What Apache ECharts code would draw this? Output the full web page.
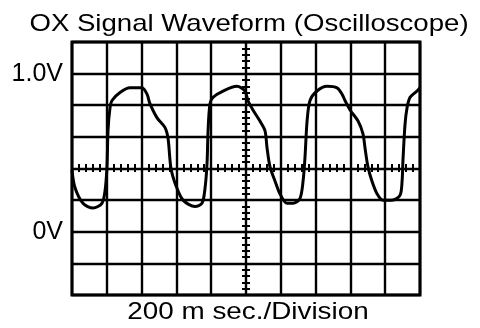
<!DOCTYPE html>
<html><head><meta charset="utf-8">
<script src="https://cdn.jsdelivr.net/npm/echarts@6/dist/echarts.min.js"></script>
<style>html,body{margin:0;padding:0;background:#fff}#c{width:480px;height:328px}</style>
</head><body><div id="c"></div>
<script>
// time in ms (200 ms per division), voltage in V
var timeMs = [0,17,63,121,172,190,201,207,218,230,276,333,402,431,448,489,534,552,569,598,638,707,747,764,776,782,793,810,868,948,994,1011,1040,1080,1109,1121,1138,1167,1195,1236,1270,1310,1328,1339,1351,1368,1408,1466,1523,1552,1569,1598,1644,1672,1684,1701,1724,1753,1787,1839,1885,1897,1902,1914,1925,1943,1983,2000];
var volts = [0.39,0.28,0.18,0.15,0.18,0.26,0.41,0.64,0.78,0.83,0.88,0.91,0.91,0.87,0.81,0.72,0.66,0.59,0.40,0.29,0.20,0.16,0.18,0.27,0.43,0.64,0.81,0.85,0.89,0.92,0.89,0.83,0.77,0.70,0.64,0.53,0.41,0.32,0.24,0.18,0.18,0.21,0.32,0.47,0.70,0.83,0.89,0.92,0.91,0.87,0.83,0.77,0.70,0.62,0.53,0.41,0.32,0.24,0.20,0.20,0.23,0.32,0.45,0.68,0.78,0.85,0.89,0.91];
var yTickLabels = {"1": "1.0V", "0": "0V"};
var titleText = "OX Signal Waveform (Oscilloscope)";
var xAxisText = "200 m sec./Division";

var pairs = timeMs.map(function(t,i){return [t, volts[i]];});
var chart = echarts.init(document.getElementById('c'), null, {renderer:'canvas'});
var font = '"Liberation Sans", Arial, sans-serif';
chart.setOption({
  animation:false,
  backgroundColor:'#fff',
  graphic:[
    {type:'text', x:249, y:36, scaleX:1.15, scaleY:1, style:{text:titleText, x:0, y:0, textAlign:'center', textVerticalAlign:'bottom', font:'24px '+font, fill:'#000'}},
    {type:'text', x:248, y:324, scaleX:1.16, scaleY:1, style:{text:xAxisText, x:0, y:0, textAlign:'center', textVerticalAlign:'bottom', font:'24px '+font, fill:'#000'}}
  ],
  grid:[
    {left:72, right:60, top:42, bottom:33, show:true, borderColor:'#000', borderWidth:3, backgroundColor:'transparent'},
    {left:72, right:60, top:164, bottom:156, show:false}
  ],
  xAxis:[{gridIndex:0, type:'value', min:0, max:2000, interval:200, axisLine:{show:false}, axisTick:{show:false}, axisLabel:{show:false},
          splitLine:{show:true, lineStyle:{color:'#000', width:2.4}}},
         {gridIndex:1, type:'value', min:0, max:2000, interval:40, position:'bottom', axisLine:{show:false},
          axisTick:{show:true, inside:true, length:8, lineStyle:{color:'#000', width:2}}, axisLabel:{show:false}, splitLine:{show:false}}],
  yAxis:[{gridIndex:0, type:'value', min:-0.4, max:1.2, interval:0.2, axisLine:{show:false}, axisTick:{show:false},
          axisLabel:{show:true, margin:9, fontFamily:font, fontSize:25, color:'#000',
            formatter:function(v){var k=String(Math.round(v*10)/10); return yTickLabels[k]||'';}},
          splitLine:{show:true, lineStyle:{color:'#000', width:2.4}}},
         {gridIndex:0, type:'value', min:-0.4, max:1.2, interval:0.04, position:'left', offset:-170, axisLine:{show:false},
          axisTick:{show:true, inside:true, length:8, lineStyle:{color:'#000', width:2}}, axisLabel:{show:false}, splitLine:{show:false}},
         {gridIndex:1, type:'value', min:0, max:1, show:false}],
  series:[{type:'line', data:pairs, xAxisIndex:0, yAxisIndex:0, showSymbol:false, smooth:0.3,
           lineStyle:{color:'#000', width:3}, z:5}]
});
</script></body></html>
